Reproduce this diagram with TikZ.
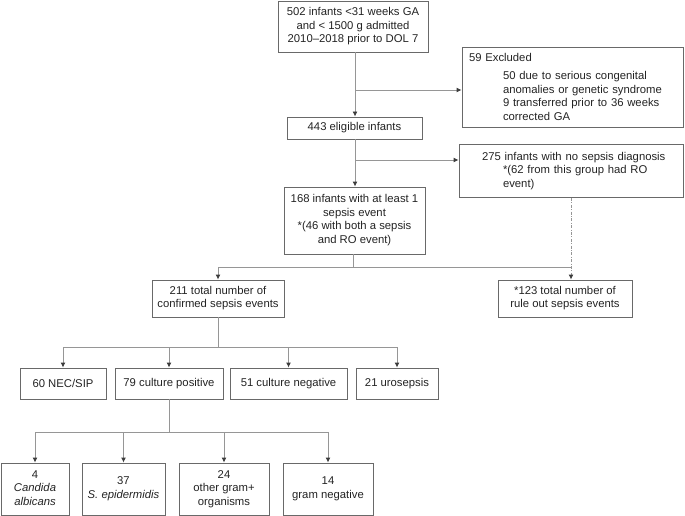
\documentclass[tikz,border=0pt]{standalone}
\usepackage{fontspec}
\setmainfont{Liberation Sans}
\usetikzlibrary{arrows.meta}
\definecolor{linegray}{RGB}{150,150,150}
\definecolor{boxgray}{RGB}{105,105,105}
\definecolor{tipgray}{RGB}{60,60,60}
\definecolor{textgray}{RGB}{35,35,35}
\newcommand{\cstack}[1]{\begin{tabular}{@{}c@{}}#1\end{tabular}}
\tikzset{
  box/.style = {draw=boxgray, line width=0.9pt, inner sep=0pt, align=center,
    text=textgray, font=\fontsize{11.3}{13.5}\selectfont},
  conn/.style = {draw=linegray, line width=0.9pt},
  arr/.style = {conn, -{Latex[length=5pt,width=5pt,color=tipgray]}}
}
\begin{document}
\begin{tikzpicture}[x=1pt,y=-1pt]
%\draw [help lines] (0,0) grid (685,516);
    \useasboundingbox (0,0) rectangle (685,516);
    % top part
    \node[box, minimum width=150, minimum height=51] (b502) at (353,26.5)
        {\cstack{502 infants <31 weeks GA\\and < 1500 g admitted\\2010–2018 prior to DOL 7}};
    \node[box, minimum width=221, minimum height=80, text width=207, align=left] (excl) at (572.5,87)
        {59 Excluded\\[4.5pt]
         \hspace*{34pt}50 due to serious congenital\\
         \hspace*{34pt}anomalies or genetic syndrome\\
         \hspace*{34pt}9 transferred prior to 36 weeks\\
         \hspace*{34pt}corrected GA};
    \node[box, minimum width=135, minimum height=22] (b443) at (354.5,128) {443 eligible infants};
    \node[box, minimum width=224, minimum height=53, text width=210, align=left] (b275) at (571,171)
        {\hspace*{16pt}275 infants with no sepsis diagnosis\\
         \hspace*{37pt}\relax*(62 from this group had RO\\
         \hspace*{37pt}event)};
    \node[box, minimum width=141, minimum height=67] (b168) at (354.5,220.5)
        {\cstack{168 infants with at least 1\\sepsis event\\\relax*(46 with both a sepsis\\and RO event)}};
    \node[box, minimum width=132, minimum height=37] (b211) at (218,298.5)
        {\cstack{211 total number of\\confirmed sepsis events}};
    \node[box, minimum width=134, minimum height=37] (b123) at (565,298.5)
        {\cstack{*123 total number of\\rule out sepsis events}};
    % sepsis events
    \node[box, minimum width=86, minimum height=31] (nec) at (63,383.5) {60 NEC/SIP};
    \node[box, minimum width=108, minimum height=31] (cpos) at (169,383.5) {79 culture positive};
    \node[box, minimum width=117, minimum height=31] (cneg) at (288.5,383.5) {51 culture negative};
    \node[box, minimum width=82, minimum height=31] (uro) at (397,383.5) {21 urosepsis};
    % organisms
    \node[box, minimum width=68, minimum height=52] (cand) at (35,489) {\cstack{4\\\textit{Candida}\\\textit{albicans}}};
    \node[box, minimum width=83, minimum height=52] (sepi) at (123.5,489) {\cstack{37\\\textit{S. epidermidis}}};
    \node[box, minimum width=90, minimum height=52] (gpos) at (224,489) {\cstack{24\\other gram+\\organisms}};
    \node[box, minimum width=90, minimum height=52] (gneg) at (328,489) {\cstack{14\\gram negative}};

    \coordinate (j1) at (355,90);
    \coordinate (j2) at (355,160);
    \coordinate (j3) at (353,267);
    \coordinate (j4) at (218,347);
    \coordinate (j5) at (169,432);

    \draw[arr] (b502.south -| j1) -- (b443.north -| j1);
    \draw[arr] (j1) -- (j1 -| excl.west);
    \draw[arr] (b443.south -| j2) -- (b168.north -| j2);
    \draw[arr] (j2) -- (j2 -| b275.west);
    \draw[conn] (b168.south -| j3) -- (j3) -- (j3 -| b275.south);
    \draw[arr] (j3) -| (b211.north);
    \draw[arr, dash pattern=on 3pt off 1.5pt on 0.8pt off 1.5pt] (b275.south) -- (b275.south |- b123.north);
    \draw[conn] (b211.south) -- (j4);
    \foreach \n in {nec,cpos,cneg,uro}
        \draw[arr] (j4) -| (\n.north);
    \draw[conn] (cpos.south) -- (j5);
    \foreach \n in {cand,sepi,gpos,gneg}
        \draw[arr] (j5) -| (\n.north);
\end{tikzpicture}
\end{document}
